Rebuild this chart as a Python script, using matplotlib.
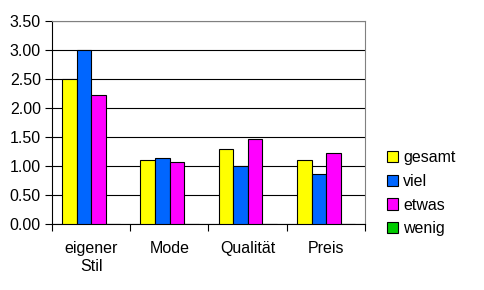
import numpy as np
import matplotlib.pyplot as plt

plt.rcParams['font.family'] = ['Liberation Sans', 'DejaVu Sans']

categories = ['eigener\nStil', 'Mode', 'Qualität', 'Preis']
series_names = ['gesamt', 'viel', 'etwas', 'wenig']
gesamt = [2.50, 1.10, 1.29, 1.10]
viel = [3.00, 1.13, 1.00, 0.86]
etwas = [2.22, 1.07, 1.46, 1.22]
wenig = [0.0, 0.0, 0.0, 0.0]
colors = ['#ffff00', '#0066ff', '#ff00ff', '#00cc00']

fig = plt.figure(figsize=(4.84, 2.90), dpi=100)
ax = fig.add_axes([0.1074, 0.2276, 0.6467, 0.70])

x = np.arange(len(categories))
w = 0.186
start = -0.5 + 0.131
handles = []
for i, (vals, name, c) in enumerate(zip([gesamt, viel, etwas, wenig], series_names, colors)):
    h = ax.bar(x + start + w * (i + 0.5), vals, width=w, color=c,
               edgecolor='black', linewidth=0.8, label=name, zorder=3)
    handles.append(h)

ax.set_xlim(-0.5, len(categories) - 0.5)
ax.set_ylim(0, 3.5)
ax.set_yticks(np.arange(0, 3.51, 0.5))
ax.set_yticklabels(['%.2f' % v for v in np.arange(0, 3.51, 0.5)])
ax.yaxis.grid(True, color='black', linewidth=0.8, zorder=1)

ax.set_xticks(x)
ax.set_xticklabels(categories, linespacing=1.3)
ax.set_xticks(np.arange(-0.5, len(categories), 1.0), minor=True)
ax.tick_params(axis='x', which='major', length=0, pad=12)
ax.tick_params(axis='x', which='minor', length=5, width=0.8, direction='out')
ax.tick_params(axis='y', length=5, width=0.8, direction='out', pad=3)
ax.tick_params(labelsize=11.5)

for s in ['left', 'bottom']:
    ax.spines[s].set_color('black')
    ax.spines[s].set_linewidth(0.8)
for s in ['top', 'right']:
    ax.spines[s].set_color('#808080')
    ax.spines[s].set_linewidth(0.8)

fig.legend(handles=handles, labels=series_names, loc='upper left',
           bbox_to_anchor=(0.787, 0.505), frameon=False, fontsize=11.5,
           handlelength=0.7, handleheight=0.7, handletextpad=0.3,
           labelspacing=0.55, borderaxespad=0)

fig.savefig('out.png', dpi=100)
